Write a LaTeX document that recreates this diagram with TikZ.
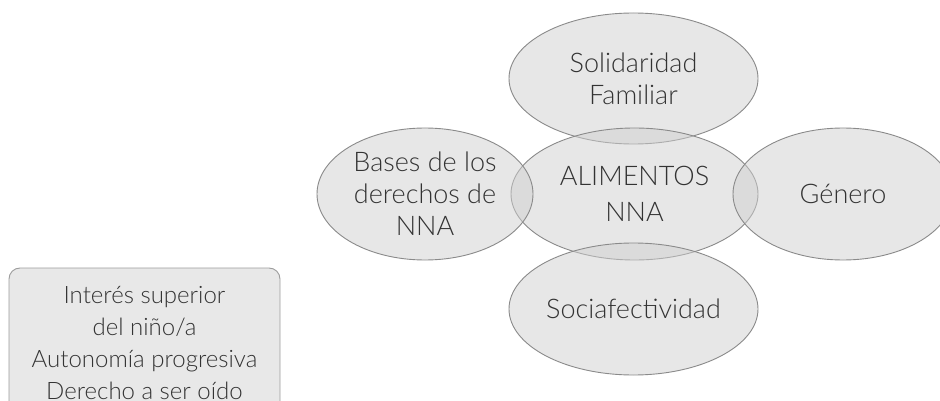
\documentclass[tikz,border=0pt]{standalone}
\usepackage{fontspec}
\setmainfont{Lato Light}
\usetikzlibrary{shapes.geometric}
\definecolor{txt}{HTML}{333333}
\definecolor{edge}{HTML}{8A8A8A}
\definecolor{boxfill}{HTML}{E8E8E8}
\tikzset{
  oval/.style={ellipse, draw=edge, line width=0.9pt, fill=black!19, fill opacity=0.5, text opacity=1,
    text=txt, inner sep=0pt, align=center, font=\fontsize{27}{32}\selectfont},
  notebox/.style={rectangle, rounded corners=11pt, draw=edge!85!white, line width=0.9pt, fill=boxfill,
    text=txt, inner sep=0pt, align=center, font=\fontsize{24}{32}\selectfont,
    minimum width=271pt, minimum height=150pt}
}
\begin{document}
\begin{tikzpicture}[x=1pt,y=-1pt]
\useasboundingbox (0,0) rectangle (940,401);
\begin{scope}
\clip (0,0) rectangle (940,401);
\node[oval, minimum width=249pt, minimum height=131pt] (sol) at (633.5,78.5) {Solidaridad\\Familiar};
\node[oval, minimum width=247pt, minimum height=132pt] (ali) at (634.5,194) {ALIMENTOS\\[4pt]NNA};
\node[oval, minimum width=216pt, minimum height=132pt] (bas) at (425,194) {Bases de los\\derechos de\\NNA};
\node[oval, minimum width=220pt, minimum height=132pt] (gen) at (843,194) {Género};
\node[oval, minimum width=249pt, minimum height=132pt] (soc) at (633.5,309) {Sociafectividad};
\node[notebox] (box) at (144.5,343) {Interés superior\\del niño/a\\Autonomía progresiva\\Derecho a ser oído};
\end{scope}
\end{tikzpicture}
\end{document}
